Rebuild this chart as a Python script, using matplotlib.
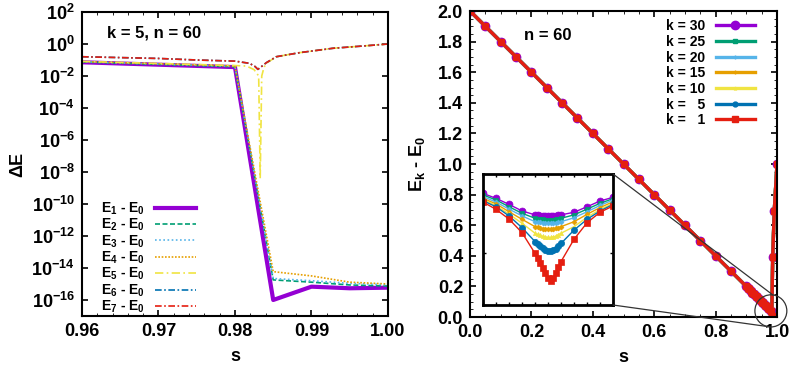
import numpy as np
import matplotlib
matplotlib.use('Agg')
import matplotlib.pyplot as plt
from matplotlib.ticker import FixedLocator, MultipleLocator, FuncFormatter, NullLocator, FormatStrFormatter
from matplotlib.patches import Ellipse, ConnectionPatch

# ---------------- left panel: gaps for k = 5, n = 60 ----------------
s_low = [0.96, 0.98, 0.985, 0.99, 0.995, 1.00]
dE1 = [7.2e-2, 3.6e-2, 1.0e-16, 6.8e-16, 5.4e-16, 5.9e-16]
dE2 = [7.5e-2, 3.8e-2, 1.8e-15, 1.3e-15, 8.7e-16, 7.4e-16]
dE3 = [7.8e-2, 4.0e-2, 2.2e-15, 1.6e-15, 1.1e-15, 9.0e-16]
dE4 = [8.0e-2, 4.2e-2, 5.9e-15, 3.2e-15, 1.3e-15, 1.0e-15]

s_e5 = [0.96, 0.98, 0.9815, 0.9825, 0.9831, 0.9833, 0.9835, 0.9838, 0.9841,
        0.9854, 0.9885, 0.9928, 0.9972, 1.00]
dE5 = [8.2e-2, 4.5e-2, 4.2e-2, 2.5e-2, 1.0e-2, 4.0e-9, 1.0e-2, 3.5e-2, 6.2e-2,
       1.6e-1, 2.9e-1, 5.4e-1, 7.8e-1, 1.0]

s_high = [0.96, 0.97, 0.975, 0.98, 0.9819, 0.9826, 0.983, 0.9835, 0.9841,
          0.9854, 0.9885, 0.9928, 0.9972, 1.00]
dE6 = [0.16, 0.125, 0.10, 0.085, 0.062, 0.040, 0.026, 0.040, 0.068,
       0.16, 0.29, 0.54, 0.78, 1.0]
dE7 = [0.16, 0.125, 0.10, 0.085, 0.062, 0.040, 0.026, 0.040, 0.068,
       0.16, 0.29, 0.54, 0.78, 1.0]
log_ticks = [1e-16, 1e-14, 1e-12, 1e-10, 1e-8, 1e-6, 1e-4, 1e-2, 1e0, 1e2]

# ---------------- right panel: E_k - E_0, n = 60 ----------------
s_lin = [0.00, 0.05, 0.10, 0.15, 0.20, 0.25, 0.30, 0.35, 0.40, 0.45, 0.50,
         0.55, 0.60, 0.65, 0.70, 0.75, 0.80, 0.85, 0.90, 0.905, 0.91, 0.915,
         0.92, 0.925, 0.93, 0.935, 0.94, 0.945, 0.95, 0.955, 0.96, 0.965,
         0.97, 0.975, 0.98]
gap_lin = [2.00, 1.90, 1.80, 1.70, 1.60, 1.50, 1.40, 1.30, 1.20, 1.10, 1.00,
           0.90, 0.80, 0.70, 0.60, 0.50, 0.40, 0.30, 0.20, 0.19, 0.18, 0.17,
           0.16, 0.15, 0.14, 0.13, 0.12, 0.11, 0.10, 0.09, 0.08, 0.07,
           0.06, 0.05, 0.04]
s_tail = [0.983, 0.986, 0.991, 1.00]
tail_k30 = [0.034, 0.39, 0.69, 1.0]
tail_k25 = [0.032, 0.39, 0.69, 1.0]
tail_k20 = [0.031, 0.39, 0.69, 1.0]
tail_k15 = [0.029, 0.39, 0.69, 1.0]
tail_k10 = [0.026, 0.39, 0.69, 1.0]
tail_k5 = [0.021, 0.39, 0.69, 1.0]
tail_k1 = [0.009, 0.39, 0.69, 1.0]

# inset: zoom on the minimum
s_in = [0.978, 0.979, 0.980, 0.981, 0.982, 0.9822, 0.9824, 0.9826, 0.9828, 0.9830,
        0.9832, 0.9834, 0.9836, 0.9838, 0.9840, 0.985, 0.986, 0.987, 0.988]
in_k1 = [0.0393, 0.0365, 0.0328, 0.0276, 0.0197, 0.0178, 0.0159, 0.0140, 0.0121, 0.0104,
         0.0092, 0.0102, 0.0121, 0.0144, 0.0166, 0.0251, 0.0314, 0.0354, 0.0378]
in_k5 = [0.0398, 0.0375, 0.0340, 0.0295, 0.0242, 0.0233, 0.0224, 0.0216, 0.0211, 0.0207,
         0.0206, 0.0209, 0.0215, 0.0224, 0.0235, 0.0286, 0.0327, 0.0359, 0.0384]
in_k10 = [0.0403, 0.0379, 0.0347, 0.0312, 0.0274, 0.0270, 0.0266, 0.0262, 0.0260, 0.0258,
          0.0258, 0.0260, 0.0263, 0.0269, 0.0274, 0.0299, 0.0335, 0.0364, 0.0388]
in_k15 = [0.0407, 0.0386, 0.0356, 0.0327, 0.0299, 0.0296, 0.0294, 0.0291, 0.0290, 0.0289,
          0.0289, 0.0290, 0.0293, 0.0295, 0.0299, 0.0318, 0.0346, 0.0372, 0.0394]
in_k20 = [0.0414, 0.0393, 0.0366, 0.0340, 0.0318, 0.0317, 0.0316, 0.0314, 0.0313, 0.0312,
          0.0312, 0.0313, 0.0314, 0.0316, 0.0318, 0.0333, 0.0356, 0.0380, 0.0401]
in_k25 = [0.0420, 0.0401, 0.0375, 0.0350, 0.0331, 0.0330, 0.0328, 0.0327, 0.0326, 0.0324,
          0.0324, 0.0326, 0.0327, 0.0328, 0.0331, 0.0344, 0.0366, 0.0388, 0.0406]
in_k30 = [0.0426, 0.0407, 0.0384, 0.0359, 0.0344, 0.0342, 0.0341, 0.0341, 0.0340, 0.0340,
          0.0340, 0.0340, 0.0341, 0.0342, 0.0344, 0.0354, 0.0375, 0.0397, 0.0411]

zoom_center = (0.98, 0.04)

plt.rcParams['font.family'] = ['Liberation Sans', 'DejaVu Sans']
plt.rcParams['font.weight'] = 'bold'
plt.rcParams['axes.labelweight'] = 'bold'
plt.rcParams['mathtext.fontset'] = 'custom'
plt.rcParams['mathtext.rm'] = 'Liberation Sans:bold'
plt.rcParams['mathtext.it'] = 'Liberation Sans:bold'
plt.rcParams['mathtext.bf'] = 'Liberation Sans:bold'
plt.rcParams['xtick.direction'] = 'in'
plt.rcParams['ytick.direction'] = 'in'
plt.rcParams['xtick.top'] = True
plt.rcParams['ytick.right'] = True
plt.rcParams['xtick.major.size'] = 4
plt.rcParams['ytick.major.size'] = 4
plt.rcParams['xtick.minor.size'] = 2
plt.rcParams['ytick.minor.size'] = 2
plt.rcParams['xtick.major.width'] = 1.2
plt.rcParams['ytick.major.width'] = 1.2
plt.rcParams['axes.linewidth'] = 1.5

purple = '#9400d3'
green = '#009e73'
lblue = '#56b4e9'
orange = '#e69f00'
yellow = '#f0e442'
blue = '#0072b2'
red = '#e51e10'

fig = plt.figure(figsize=(7.89, 3.67), dpi=100)

# ---- left ----
ax1 = fig.add_axes([0.1039, 0.139, 0.3878, 0.8283])
ax1.plot(s_low, dE1, color=purple, lw=3.0, label='E$_1$ - E$_0$')
ax1.plot(s_low, dE2, color=green, lw=1.2, ls=(0, (3, 1.5)), label='E$_2$ - E$_0$')
ax1.plot(s_low, dE3, color=lblue, lw=1.2, ls=(0, (1, 1.5)), label='E$_3$ - E$_0$')
ax1.plot(s_low, dE4, color=orange, lw=1.2, ls=(0, (1, 1)), label='E$_4$ - E$_0$')
ax1.plot(s_e5, dE5, color=yellow, lw=1.2, ls=(0, (5, 2, 1, 2)), label='E$_5$ - E$_0$')
ax1.plot(s_high, dE6, color=blue, lw=1.2, ls=(0, (4, 1.5, 1, 1.5)), label='E$_6$ - E$_0$')
ax1.plot(s_high, dE7, color=red, lw=1.2, ls=(0, (4, 1.5, 1, 1.5)), label='E$_7$ - E$_0$')
ax1.set_yscale('log')
ax1.set_xlim(0.96, 1.0)
ax1.set_ylim(1e-17, 1e2)
ax1.yaxis.set_major_locator(FixedLocator(log_ticks))
ax1.yaxis.set_minor_locator(NullLocator())
ax1.yaxis.set_major_formatter(FuncFormatter(lambda v, p: r'$10^{%d}$' % int(round(np.log10(v)))))
ax1.xaxis.set_major_locator(MultipleLocator(0.01))
ax1.xaxis.set_minor_locator(MultipleLocator(0.002))
ax1.xaxis.set_major_formatter(FormatStrFormatter('%.2f'))
ax1.tick_params(labelsize=13, pad=5)
for lb in ax1.get_xticklabels() + ax1.get_yticklabels():
    lb.set_fontweight('bold')
ax1.set_xlabel('s', fontsize=13, fontweight='bold', labelpad=6)
ax1.set_ylabel('ΔE', fontsize=13, fontweight='bold', labelpad=4)
ax1.text(0.082, 0.93, 'k = 5, n = 60', transform=ax1.transAxes, fontsize=12,
         fontweight='bold', va='center', ha='left')
ax1.legend(loc='lower left', bbox_to_anchor=(0.035, -0.025), frameon=False,
           markerfirst=False, prop={'size': 10, 'weight': 'bold'},
           handlelength=3.0, handletextpad=0.7, labelspacing=0.0,
           borderaxespad=0.2)

# ---- right ----
ax2 = fig.add_axes([0.5957, 0.1362, 0.3891, 0.8338])
styles = [
    ('k = 30', tail_k30, purple, 'o', 6),
    ('k = 25', tail_k25, green, 's', 2.5),
    ('k = 20', tail_k20, lblue, '+', 3),
    ('k = 15', tail_k15, orange, '+', 3),
    ('k = 10', tail_k10, yellow, '^', 2),
    ('k =   5', tail_k5, blue, 'o', 3.5),
    ('k =   1', tail_k1, red, 's', 4.5),
]
for lab, tail, col, mk, ms in styles:
    ax2.plot(s_lin + s_tail, gap_lin + tail, color=col, lw=2.4, marker=mk,
             ms=ms, mew=1, label=lab)
ax2.set_xlim(0, 1.0)
ax2.set_ylim(0, 2.0)
ax2.xaxis.set_major_locator(MultipleLocator(0.2))
ax2.xaxis.set_minor_locator(MultipleLocator(0.05))
ax2.yaxis.set_major_locator(MultipleLocator(0.2))
ax2.yaxis.set_minor_locator(MultipleLocator(0.05))
ax2.xaxis.set_major_formatter(FormatStrFormatter('%.1f'))
ax2.yaxis.set_major_formatter(FormatStrFormatter('%.1f'))
ax2.tick_params(labelsize=13, pad=5)
for lb in ax2.get_xticklabels() + ax2.get_yticklabels():
    lb.set_fontweight('bold')
ax2.set_xlabel('s', fontsize=13, fontweight='bold', labelpad=6)
ax2.set_ylabel('E$_\\mathrm{k}$ - E$_0$', fontsize=13, fontweight='bold', labelpad=8)
ax2.text(0.175, 0.92, 'n = 60', transform=ax2.transAxes, fontsize=12,
         fontweight='bold', va='center', ha='left')
ax2.legend(loc='upper right', bbox_to_anchor=(0.955, 1.0), frameon=False,
           markerfirst=False, prop={'size': 10, 'weight': 'bold'},
           handlelength=2.8, handletextpad=0.8, labelspacing=0.12,
           borderaxespad=0.2)

# circle around the minimum
circ = Ellipse(zoom_center, width=0.104, height=0.21, fill=False, ec='#333333',
               lw=0.9, clip_on=False, zorder=5)
ax2.add_patch(circ)

# ---- inset ----
axin = fig.add_axes([0.6122, 0.1689, 0.1648, 0.357])
inset_series = [
    (in_k30, purple, 'o', 5),
    (in_k25, green, 's', 3),
    (in_k20, lblue, 'D', 2.5),
    (in_k15, orange, 'D', 2.5),
    (in_k10, yellow, '^', 3),
    (in_k5, blue, 'o', 4.5),
    (in_k1, red, 's', 5),
]
for vals, col, mk, ms in inset_series:
    axin.plot(s_in, vals, color=col, lw=1.0, marker=mk, ms=ms, mew=0.5)
axin.set_xlim(0.978, 0.988)
axin.set_ylim(0, 0.05)
axin.xaxis.set_major_locator(MultipleLocator(0.001))
axin.yaxis.set_major_locator(MultipleLocator(0.02))
axin.tick_params(labelbottom=False, labelleft=False, length=2, width=1)
for sp in axin.spines.values():
    sp.set_linewidth(2)

for xa, xb in [((1, 1), (0.986, 0.145)), ((1, 0), (0.972, -0.063))]:
    con = ConnectionPatch(xyA=xa, coordsA=axin.transAxes, xyB=xb,
                          coordsB=ax2.transData, color='#333333', lw=0.9)
    fig.add_artist(con)

fig.savefig('out.png', dpi=100)
